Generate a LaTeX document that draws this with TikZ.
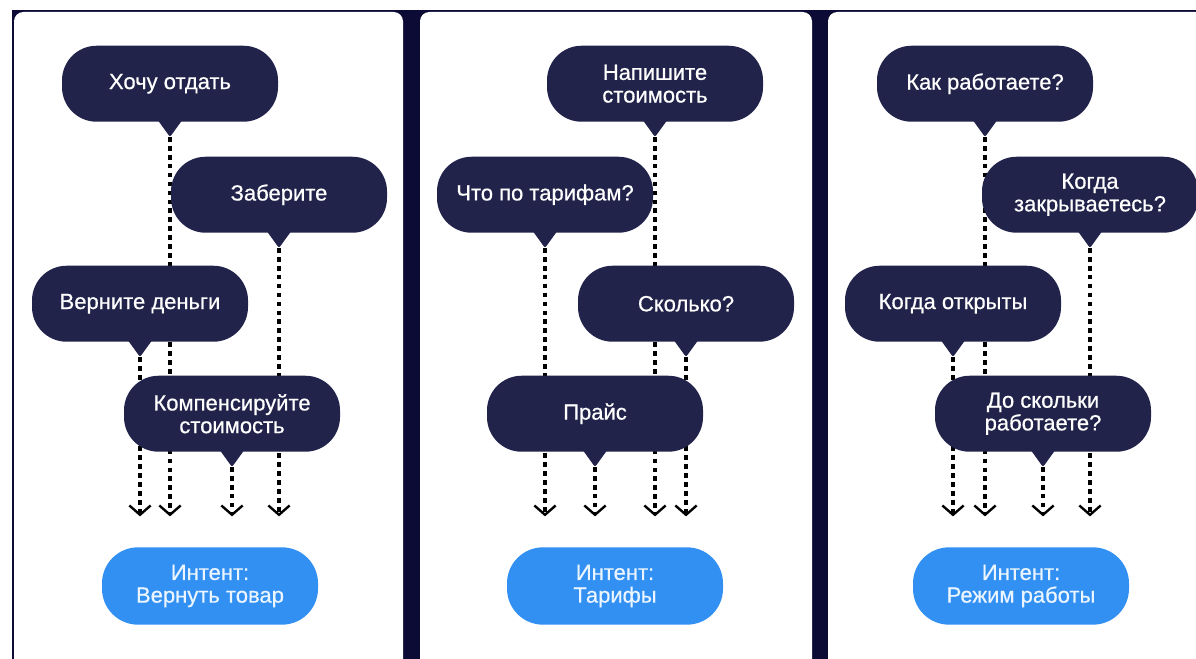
\documentclass[tikz,border=0pt]{standalone}
\usepackage{fontspec}
\setmainfont{Liberation Sans}[FakeBold=0.6]
\usetikzlibrary{positioning,calc,arrows.meta}

\definecolor{framebg}{HTML}{0C0B35}
\definecolor{bubblebg}{HTML}{21234A}
\definecolor{intentbg}{HTML}{3390F3}
\definecolor{intenttext}{HTML}{EAF5FF}

\tikzset{
  panel/.style={fill=white, rounded corners=7pt},
  bubble/.style={fill=bubblebg, text=white, rounded corners=26pt,
    minimum width=162pt, minimum height=57pt, inner sep=0pt, align=center},
  intent/.style={fill=intentbg, text=intenttext, rounded corners=27pt,
    minimum width=162pt, minimum height=58pt, inner sep=0pt, align=center},
  flow/.style={line width=2.6pt, dash pattern=on 3.5pt off 3.2pt,
    -{Straight Barb[length=7pt,width=16pt,line width=1.8pt]}, shorten >=23pt},
}

% speech bubble tail: #1 bubble, #2 tip
\newcommand{\bubbletail}[2]{%
  \fill[bubblebg, rounded corners=1.5pt] ($(#1.south)+(-13,-3)$) -- (#2) -- ($(#1.south)+(13,-3)$) -- cycle;}

\begin{document}
\begin{tikzpicture}[
  x=0.75pt, y=-0.75pt,
  node distance=11.25pt,
  font=\fontsize{16.5}{17}\selectfont
]
\useasboundingbox (0,0) rectangle (1196,659);
\clip (0,0) rectangle (1196,659);

% Frame and panels
\fill[framebg] (12,10) rectangle (1196,659);
\fill[panel] (14,12) rectangle (403,700);
\fill[panel] (420,12) rectangle (812,700);
\fill[panel] (828,12) rectangle (1230,700);

% Intents
\node[intent] (int1) at (210,586) {Интент:\\Вернуть товар};
\node[intent] (int2) at (615,586) {Интент:\\Тарифы};
\node[intent] (int3) at (1021,586) {Интент:\\Режим работы};

% Tips of the bubbles
\coordinate (t11) at (170,137);
\coordinate (t12) at (279,248);
\coordinate (t13) at (140,357);
\coordinate (t14) at (232,467);

\coordinate (t21) at (655,137);
\coordinate (t22) at (545,248);
\coordinate (t23) at (686,357);
\coordinate (t24) at (595,467);

\coordinate (t31) at (985,137);
\coordinate (t32) at (1090,248);
\coordinate (t33) at (953,357);
\coordinate (t34) at (1043,467);

% Flows down to the intents
\foreach \t in {t11,t12,t13,t14}
  \draw[flow] (\t) -- (\t |- int1.north);
\foreach \t in {t21,t22,t23,t24}
  \draw[flow] (\t) -- (\t |- int2.north);
\foreach \t in {t31,t32,t33,t34}
  \draw[flow] (\t) -- (\t |- int3.north);

% Panel 1
\node[bubble, above=of t11] (b11) {Хочу отдать};
\node[bubble, above=of t12] (b12) {Заберите};
\node[bubble, above=of t13] (b13) {Верните деньги};
\node[bubble, above=of t14] (b14) {Компенсируйте\\стоимость};

% Panel 2
\node[bubble, above=of t21] (b21) {Напишите\\стоимость};
\node[bubble, above=of t22] (b22) {Что по тарифам?};
\node[bubble, above=of t23] (b23) {Сколько?};
\node[bubble, above=of t24] (b24) {Прайс};

% Panel 3
\node[bubble, above=of t31] (b31) {Как работаете?};
\node[bubble, above=of t32] (b32) {Когда\\закрываетесь?};
\node[bubble, above=of t33] (b33) {Когда открыты};
\node[bubble, above=of t34] (b34) {До скольки\\работаете?};

% Tails
\foreach \b/\t in {b11/t11,b12/t12,b13/t13,b14/t14,
                   b21/t21,b22/t22,b23/t23,b24/t24,
                   b31/t31,b32/t32,b33/t33,b34/t34}
  {\bubbletail{\b}{\t}}
\end{tikzpicture}
\end{document}
